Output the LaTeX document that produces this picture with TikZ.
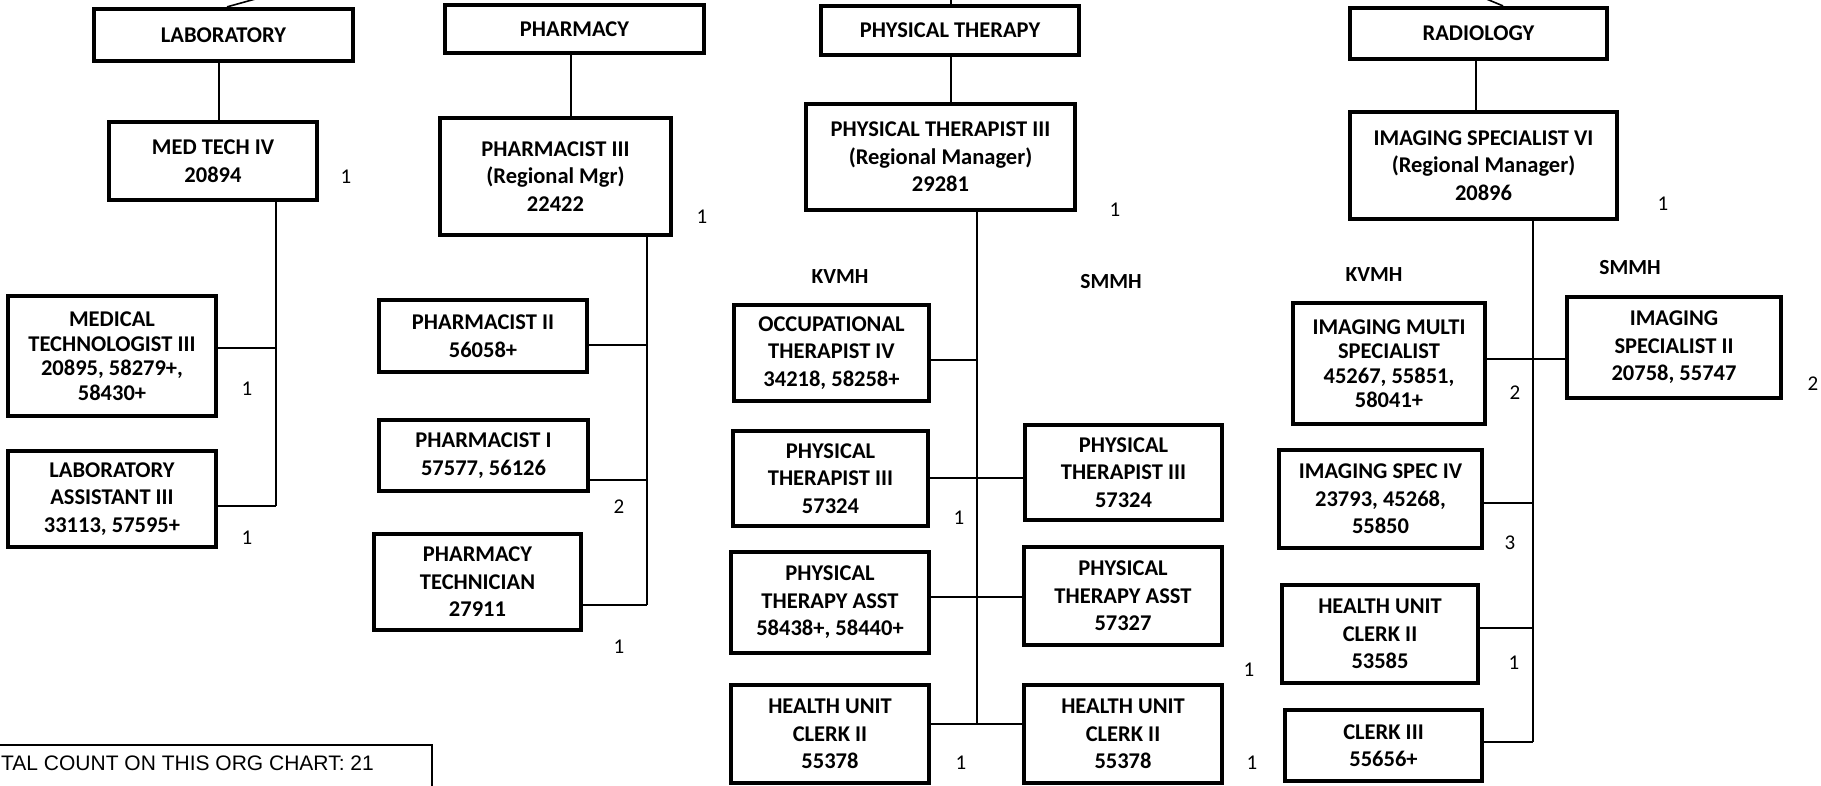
\documentclass[tikz,border=0pt]{standalone}
\usepackage{fontspec}
\setmainfont{Carlito}
\newfontfamily\arialfont{Liberation Sans}
\tikzset{
  box/.style={draw, line width=4.2pt, inner sep=0pt, align=center,
    font=\bfseries\fontsize{22.5}{27.5}\selectfont},
  conn/.style={line width=1.6pt},
  cnt/.style={font=\fontsize{21}{24}\selectfont, inner sep=0pt},
  site/.style={font=\bfseries\fontsize{21.5}{24}\selectfont, inner sep=0pt},
}
\newcommand{\bx}[5]{\node[box, minimum width=#3pt, minimum height=#4pt] (#1) at (#2) {#5};}
\begin{document}
\begin{tikzpicture}[x=1pt, y=-1pt]
\useasboundingbox (0,0) rectangle (1821,786);
\clip (0,0) rectangle (1821,786);
\fill[white] (0,0) rectangle (1821,786);

% ---------- LABORATORY ----------
\bx{lab}{223.5,35}{259}{52}{LABORATORY}
\bx{medtech}{213,161}{208}{78}{MED TECH IV\\20894}
\bx{mt3}{112,356}{208}{120}{MEDICAL\\[-3pt]TECHNOLOGIST III\\[-3pt]20895, 58279+,\\[-3pt]58430+}
\bx{lasst}{112,499}{208}{96}{LABORATORY\\ASSISTANT III\\33113, 57595+}
\coordinate (labUp) at (259,-2);
\draw[conn] (lab.north -| 227,0) -- (labUp);
\draw[conn] (lab.south -| 219,0) -- (medtech.north -| 219,0);
\coordinate (labT) at (276,506);
\draw[conn] (medtech.south -| labT) -- (labT);
\draw[conn] (mt3.east |- 0,348) -- (labT |- 0,348);
\draw[conn] (lasst.east |- labT) -- (labT);
\node[cnt] (c1) at (346,177) {1};
\node[cnt] (c2) at (247,389) {1};
\node[cnt] (c3) at (247,538) {1};

% ---------- PHARMACY ----------
\bx{pharm}{574.5,29}{259}{48}{PHARMACY}
\bx{ph3}{555.5,176.5}{231}{117}{PHARMACIST III\\(Regional Mgr)\\22422}
\bx{ph2}{483,336}{208}{72}{PHARMACIST II\\56058+}
\bx{ph1}{483.5,455.5}{209}{71}{PHARMACIST I\\57577, 56126}
\bx{phtech}{477.5,582}{207}{96}{PHARMACY\\TECHNICIAN\\27911}
\draw[conn] (pharm.south -| 571,0) -- (ph3.north -| 571,0);
\coordinate (phT) at (647,605);
\draw[conn] (ph3.south -| phT) -- (phT);
\draw[conn] (ph2.east |- 0,345) -- (phT |- 0,345);
\draw[conn] (ph1.east |- 0,480) -- (phT |- 0,480);
\draw[conn] (phtech.east |- phT) -- (phT);
\node[cnt] (c4) at (702,217) {1};
\node[cnt] (c5) at (619,507) {2};
\node[cnt] (c6) at (619,647) {1};

% ---------- PHYSICAL THERAPY ----------
\bx{ptd}{950,30.5}{258}{49}{PHYSICAL THERAPY}
\bx{pt3m}{940.5,157}{269}{106}{PHYSICAL THERAPIST III\\(Regional Manager)\\29281}
\bx{ot4}{831.5,353}{195}{96}{OCCUPATIONAL\\THERAPIST IV\\34218, 58258+}
\bx{pt3k}{830.5,478.5}{195}{95}{PHYSICAL\\THERAPIST III\\57324}
\bx{pt3s}{1123.5,472.5}{197}{95}{PHYSICAL\\THERAPIST III\\57324}
\bx{ptak}{830,602.5}{198}{101}{PHYSICAL\\THERAPY ASST\\58438+, 58440+}
\bx{ptas}{1123,596}{198}{98}{PHYSICAL\\THERAPY ASST\\57327}
\bx{huck}{830,734}{198}{98}{HEALTH UNIT\\CLERK II\\55378}
\bx{hucs}{1123,734}{198}{98}{HEALTH UNIT\\CLERK II\\55378}
\coordinate (ptUp) at (951,-2);
\draw[conn] (ptd.north -| ptUp) -- (ptUp);
\draw[conn] (ptd.south -| 951,0) -- (pt3m.north -| 951,0);
\coordinate (ptT) at (977,724);
\draw[conn] (pt3m.south -| ptT) -- (ptT);
\draw[conn] (ot4.east |- 0,360) -- (ptT |- 0,360);
\draw[conn] (pt3k.east |- 0,478) -- (pt3s.west |- 0,478);
\draw[conn] (ptak.east |- 0,597) -- (ptas.west |- 0,597);
\draw[conn] (huck.east |- ptT) -- (hucs.west |- ptT);
\node[site] (kv1) at (840,277) {KVMH};
\node[site] (sm1) at (1111,282) {SMMH};
\node[cnt] (c7) at (1115,210) {1};
\node[cnt] (c8) at (959,518) {1};
\node[cnt] (c9) at (1249,670) {1};
\node[cnt] (c10) at (961,763) {1};
\node[cnt] (c11) at (1252,763) {1};

% ---------- RADIOLOGY ----------
\bx{rad}{1478.5,33.5}{257}{51}{RADIOLOGY}
\bx{is6}{1483.5,165.5}{267}{107}{IMAGING SPECIALIST VI\\(Regional Manager)\\20896}
\bx{imulti}{1389,363.5}{192}{121}{IMAGING MULTI\\[-3pt]SPECIALIST\\[-3pt]45267, 55851,\\[-3pt]58041+}
\bx{is2}{1674,347.5}{214}{101}{IMAGING\\SPECIALIST II\\20758, 55747}
\bx{is4}{1380.5,499}{203}{98}{IMAGING SPEC IV\\23793, 45268,\\55850}
\bx{huc2}{1380,634}{196}{98}{HEALTH UNIT\\CLERK II\\53585}
\bx{clerk3}{1383.5,745.5}{197}{71}{CLERK III\\55656+}
\coordinate (radUp) at (1484,-2);
\draw[conn] (rad.north -| 1503,0) -- (radUp);
\draw[conn] (rad.south -| 1476,0) -- (is6.north -| 1476,0);
\coordinate (radT) at (1533,742);
\draw[conn] (is6.south -| radT) -- (radT);
\draw[conn] (imulti.east |- 0,359) -- (is2.west |- 0,359);
\draw[conn] (is4.east |- 0,503) -- (radT |- 0,503);
\draw[conn] (huc2.east |- 0,628) -- (radT |- 0,628);
\draw[conn] (clerk3.east |- radT) -- (radT);
\node[site] (kv2) at (1374,275) {KVMH};
\node[site] (sm2) at (1630,268) {SMMH};
\node[cnt] (c12) at (1663,204) {1};
\node[cnt] (c13) at (1515,393) {2};
\node[cnt] (c14) at (1813,384) {2};
\node[cnt] (c15) at (1510,543) {3};
\node[cnt] (c16) at (1514,663) {1};

% ---------- TOTAL ----------
\draw[line width=1.3pt] (-5,745) rectangle (432,800);
\node[anchor=west, inner sep=0pt, font=\arialfont\fontsize{21}{24}\selectfont] (total) at (1,763) {TAL COUNT ON THIS ORG CHART: 21};
\end{tikzpicture}
\end{document}
